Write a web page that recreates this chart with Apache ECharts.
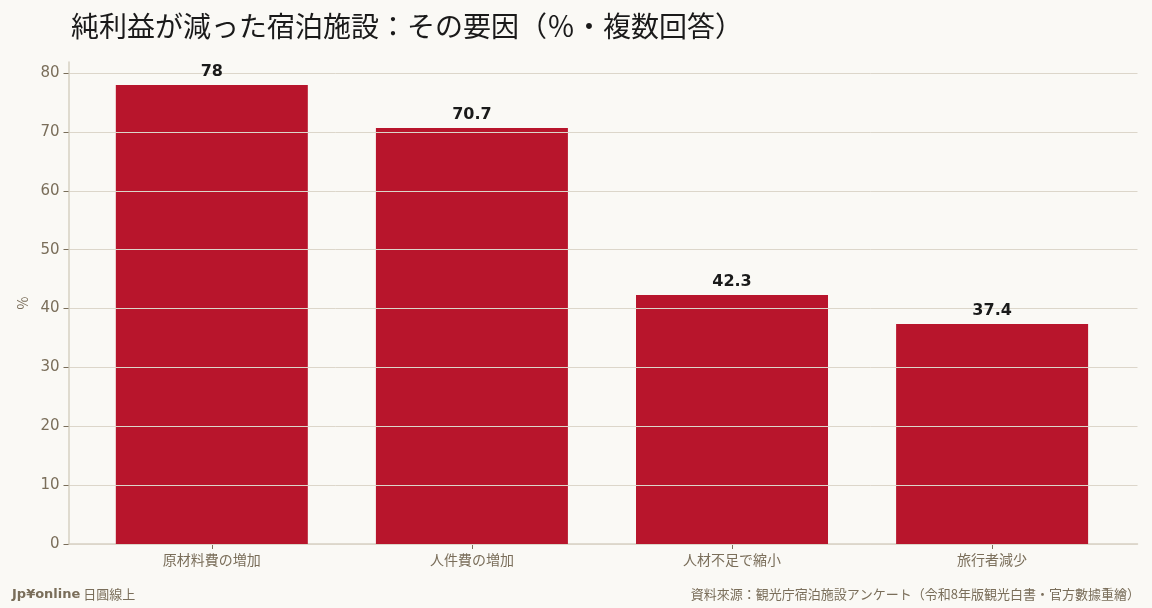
<html>
<head>
  <meta charset="utf-8" />
  <title>純利益が減った宿泊施設：その要因</title>
  <script src="https://cdn.jsdelivr.net/npm/echarts@6/dist/echarts.min.js"></script>
</head>
<body style="margin:0; background-color:#faf9f5">
  <div id="main" style="width:1152px; height:608px;"></div>
  <script type="text/javascript">
    var categories = ['原材料費の増加', '人件費の増加', '人材不足で縮小', '旅行者減少'];
    var values = [78, 70.7, 42.3, 37.4];
    var yTicks = [0, 10, 20, 30, 40, 50, 60, 70, 80];

    var textColor = '#7a6e5a';
    var lineColor = '#d6d0c2';
    var barColor = '#b8152c';

    // x positions are just the category index, labels come from categories
    var barData = values.map(function(v, i) { return [i, v]; });
    var catIdx = categories.map(function(c, i) { return i; });

    var chart = echarts.init(document.getElementById('main'));
    chart.setOption({
      backgroundColor: '#faf9f5',
      textStyle: {fontFamily: 'Noto Sans CJK JP'},
      title: {
        text: '純利益が減った宿泊施設：その要因（％・複数回答）',
        left: 66, top: 7,
        textStyle: {fontSize: 28, fontWeight: 'normal', color: '#1a1a1a', fontFamily: 'Noto Sans CJK JP'}
      },
      graphic: [
        {type: 'text', left: 12, top: 588, style: {
          text: '{b|Jp¥online} 日圓線上',
          rich: {b: {fontWeight: 'bold', fontSize: 13, fill: textColor, fontFamily: 'DejaVu Sans'}},
          fontSize: 13, fill: textColor, fontFamily: 'Noto Sans CJK JP'}},
        {type: 'text', right: 12, top: 588, style: {
          text: '資料來源：観光庁宿泊施設アンケート（令和8年版観光白書・官方數據重繪）',
          fontSize: 13, fill: textColor, fontFamily: 'Noto Sans CJK JP'}}
      ],
      grid: {left: 68.5, right: 14.5, top: 62, bottom: 64},
      xAxis: {
        type: 'value', min: -0.551, max: 3.559,
        splitLine: {show: false},
        axisLine: {show: true, onZero: false, lineStyle: {color: lineColor, width: 1.5}},
        axisTick: {show: true, customValues: catIdx, length: 5, lineStyle: {color: textColor}},
        axisLabel: {customValues: catIdx, color: textColor, fontSize: 14, margin: 9,
          formatter: function(v) { return categories[Math.round(v)]; }}
      },
      yAxis: {
        type: 'value', min: 0, max: 81.9, interval: 10, z: 3,
        name: '%', nameLocation: 'middle', nameGap: 36,
        nameTextStyle: {color: textColor, fontSize: 14},
        axisLine: {show: true, onZero: false, lineStyle: {color: lineColor, width: 1.5}},
        axisTick: {show: true, length: 5, customValues: yTicks, lineStyle: {color: textColor}},
        axisLabel: {color: textColor, fontSize: 15, margin: 9, fontFamily: 'DejaVu Sans',
          customValues: yTicks},
        splitLine: {show: true, lineStyle: {color: '#dcd6ca', width: 1}}
      },
      series: [{
        type: 'bar', data: barData, barWidth: 192, z: 2,
        itemStyle: {color: barColor}
      }, {
        // labels only, kept above the grid lines
        type: 'bar', data: barData, barWidth: 192, barGap: '-100%', z: 5,
        itemStyle: {color: 'rgba(0,0,0,0)'},
        label: {show: true, position: 'top', distance: 5, color: '#1a1a1a',
          fontSize: 16, fontWeight: 'bold', fontFamily: 'DejaVu Sans',
          formatter: function(p) { return p.value[1]; }}
      }]
    });
  </script>
</body>
</html>
